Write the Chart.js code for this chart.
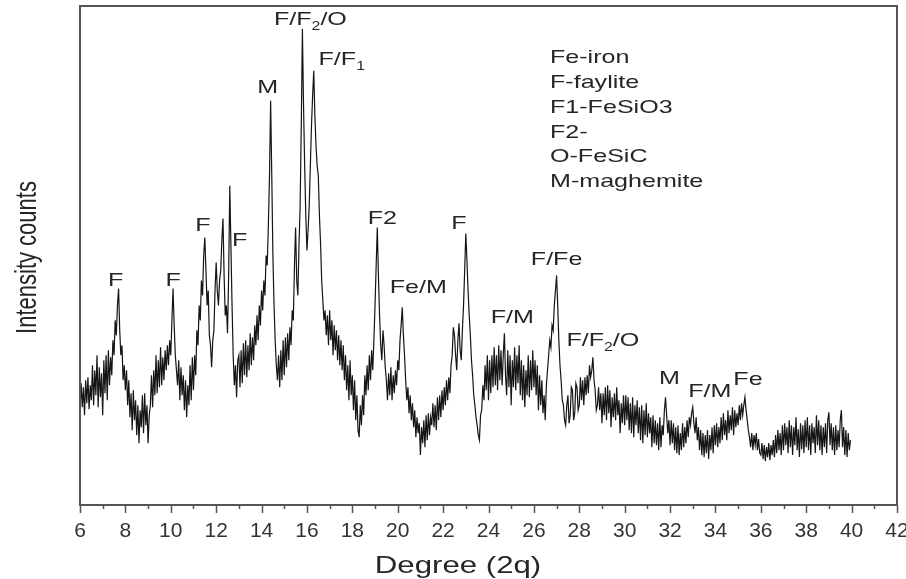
<!DOCTYPE html>
<html>
<head>
<meta charset="utf-8">
<title>XRD pattern</title>
<script src="https://cdn.jsdelivr.net/npm/chart.js@4.4.1/dist/chart.umd.min.js"></script>
<style>
  html, body { margin: 0; padding: 0; background: #fff; }
  canvas { display: block; }
</style>
</head>
<body>
<canvas id="xrd" width="906" height="579"></canvas>
<script>
// 2-theta scan: first angle and step between readings
const scanStart = 6.0;
const scanStep = 0.05;

// intensity (arb. counts), one row per degree, 6.00 .. 39.95
const counts = [
  95, 122, 98, 118, 90, 125, 102, 128, 96, 120, 105, 140, 100, 135, 110, 150, 98, 138, 108, 132,
  90, 145, 112, 150, 105, 155, 120, 148, 130, 165, 150, 185, 170, 200, 217, 175, 150, 160, 125, 140,
  115, 135, 100, 125, 88, 112, 75, 115, 85, 105, 70, 100, 62, 95, 78, 110, 72, 112, 80, 100,
  62, 90, 100, 130, 98, 135, 110, 150, 112, 145, 118, 158, 120, 148, 125, 155, 135, 160, 140, 165,
  150, 185, 217, 180, 150, 135, 120, 145, 105, 138, 110, 130, 95, 125, 88, 120, 100, 140, 105, 148,
  115, 150, 130, 175, 160, 200, 185, 225, 210, 250, 268, 235, 200, 215, 170, 160, 138, 165, 175, 215,
  243, 215, 200, 225, 235, 265, 287, 230, 190, 200, 172, 230, 320, 260, 200, 150, 120, 140, 108, 145,
  150, 118, 155, 122, 162, 130, 165, 128, 160, 135, 172, 140, 168, 145, 180, 160, 190, 165, 200, 180,
  215, 195, 225, 210, 250, 240, 280, 330, 405, 330, 250, 200, 165, 140, 125, 150, 118, 155, 125, 165,
  130, 168, 138, 172, 145, 178, 160, 195, 185, 240, 278, 225, 210, 260, 300, 380, 477, 400, 340, 290,
  255, 275, 300, 340, 380, 410, 435, 390, 360, 340, 330, 290, 262, 225, 205, 185, 195, 170, 190, 160,
  195, 165, 185, 150, 180, 155, 175, 145, 170, 140, 165, 135, 160, 125, 150, 115, 140, 105, 145, 110,
  130, 95, 125, 85, 110, 75, 68, 100, 80, 110, 90, 130, 110, 140, 115, 150, 125, 155, 135, 165,
  200, 240, 278, 230, 190, 160, 145, 175, 160, 138, 125, 105, 132, 110, 138, 105, 130, 112, 135, 120,
  145, 135, 165, 180, 198, 170, 150, 125, 105, 118, 92, 110, 85, 102, 78, 95, 68, 88, 72, 82,
  50, 78, 62, 85, 58, 90, 65, 92, 70, 88, 80, 102, 78, 100, 75, 108, 85, 110, 88, 115,
  95, 118, 100, 125, 105, 128, 112, 140, 150, 178, 170, 150, 135, 165, 182, 155, 145, 175, 200, 235,
  272, 245, 215, 190, 170, 145, 130, 110, 100, 88, 80, 70, 65, 90, 95, 120, 105, 140, 115, 150,
  105, 145, 112, 150, 118, 158, 120, 150, 115, 160, 125, 155, 120, 150, 172, 130, 110, 155, 118, 150,
  100, 145, 118, 158, 115, 150, 122, 160, 110, 145, 105, 140, 98, 135, 110, 150, 108, 145, 115, 155,
  118, 145, 110, 140, 95, 130, 100, 125, 92, 110, 85, 120, 135, 150, 165, 158, 180, 175, 200, 215,
  230, 200, 165, 140, 125, 105, 100, 85, 80, 100, 110, 82, 90, 118, 115, 85, 92, 122, 118, 95,
  100, 128, 105, 125, 100, 128, 110, 130, 112, 140, 128, 135, 148, 125, 115, 95, 100, 118, 95, 112,
  82, 112, 90, 118, 85, 120, 92, 115, 78, 108, 88, 112, 85, 118, 90, 105, 72, 102, 82, 110,
  80, 110, 85, 108, 75, 102, 72, 108, 68, 100, 80, 105, 72, 98, 65, 100, 62, 95, 70, 102,
  68, 92, 72, 88, 58, 90, 62, 85, 60, 82, 55, 88, 58, 80, 70, 95, 108, 90, 72, 85,
  60, 85, 62, 82, 55, 78, 52, 80, 50, 72, 55, 82, 58, 78, 62, 85, 68, 88, 80, 92,
  98, 82, 72, 88, 65, 78, 55, 75, 50, 72, 48, 70, 52, 75, 46, 70, 55, 78, 52, 80,
  60, 82, 58, 78, 62, 88, 65, 92, 70, 85, 65, 95, 72, 90, 75, 98, 70, 95, 78, 92,
  80, 100, 85, 102, 90, 100, 108, 95, 85, 75, 68, 58, 72, 55, 70, 60, 72, 55, 66, 52,
  50, 62, 46, 60, 44, 58, 48, 62, 45, 60, 50, 65, 48, 70, 52, 75, 55, 72, 50, 80,
  55, 82, 60, 78, 52, 85, 58, 80, 50, 78, 60, 88, 55, 76, 48, 82, 56, 80, 52, 85,
  58, 88, 55, 80, 50, 82, 62, 78, 52, 90, 60, 85, 55, 80, 50, 78, 58, 82, 52, 85,
  93, 60, 82, 55, 78, 50, 80, 55, 75, 58, 85, 95, 58, 78, 50, 75, 48, 72, 55, 65
];

// axis range and labelled ticks
const xMin = 6;
const xMax = 42;
const xTickLabels = [6, 8, 10, 12, 14, 16, 18, 20, 22, 24, 26, 28, 30, 32, 34, 36, 38, 40, 42];

// phase assignments ("_n" = subscript n), placed on the peak at that angle
const peakLabels = [
  { text: 'F', at: 7.7 },
  { text: 'F', at: 10.1 },
  { text: 'F', at: 11.5 },
  { text: 'F', at: 12.6 },
  { text: 'M', at: 14.4 },
  { text: 'F/F_2/O', at: 15.8 },
  { text: 'F/F_1', at: 16.3 },
  { text: 'F2', at: 19.1 },
  { text: 'Fe/M', at: 20.2 },
  { text: 'F', at: 23.0 },
  { text: 'F/M', at: 24.7 },
  { text: 'F/Fe', at: 27.0 },
  { text: 'F/F_2/O', at: 28.6 },
  { text: 'M', at: 31.8 },
  { text: 'F/M', at: 33.0 },
  { text: 'Fe', at: 35.3 }
];

const phaseKey = ['Fe-iron', 'F-faylite', 'F1-FeSiO3', 'F2-', 'O-FeSiC', 'M-maghemite'];

const points = counts.map((c, i) => ({ x: +(scanStart + i * scanStep).toFixed(2), y: c }));

const TEXT = '#262626';
const AXIS = '#555';
const FONT = '"Liberation Sans", Arial, sans-serif';
const WIDE = 1.32;   // lettering in this figure is drawn wide

// text drawn horizontally stretched, centred or left aligned at x
function wideText(ctx, str, x, y, stretch) {
  ctx.save();
  ctx.translate(x, y);
  ctx.scale(stretch, 1);
  ctx.fillText(str, 0, 0);
  ctx.restore();
}

// label with optional one-character subscripts, centred on cx
function drawPeakLabel(ctx, text, cx, cy) {
  const parts = text.split(/_(\d)/);
  const main = '19px ' + FONT;
  const sub = '12px ' + FONT;
  let total = 0;
  parts.forEach((p, i) => {
    ctx.font = i % 2 ? sub : main;
    total += ctx.measureText(p).width * WIDE;
  });
  let x = cx - total / 2;
  ctx.textAlign = 'left';
  parts.forEach((p, i) => {
    ctx.font = i % 2 ? sub : main;
    wideText(ctx, p, x, i % 2 ? cy + 7 : cy, WIDE);
    x += ctx.measureText(p).width * WIDE;
  });
}

const framePlugin = {
  id: 'frame',
  afterDatasetsDraw(chart) {
    const { ctx, chartArea: a, scales: { x } } = chart;
    ctx.save();
    ctx.strokeStyle = AXIS;
    ctx.lineWidth = 2;
    ctx.strokeRect(a.left, a.top, a.right - a.left, a.bottom - a.top);
    ctx.lineWidth = 1.5;
    for (let v = xMin; v <= xMax; v++) {
      const px = Math.round(x.getPixelForValue(v)) + 0.5;
      const len = v % 2 === 0 ? 8 : 4;
      ctx.beginPath();
      ctx.moveTo(px, a.bottom);
      ctx.lineTo(px, a.bottom + len);
      ctx.stroke();
    }
    ctx.restore();
  }
};

const labelPlugin = {
  id: 'peakText',
  afterDraw(chart, args, opts) {
    const { ctx, chartArea: a, scales: { x, y } } = chart;
    ctx.save();
    ctx.fillStyle = TEXT;
    ctx.textBaseline = 'middle';

    peakLabels.forEach((l, i) => {
      const c = counts[Math.round((l.at - scanStart) / scanStep)];
      const [dx, dy] = opts.offsets[i];
      drawPeakLabel(ctx, l.text, x.getPixelForValue(l.at) + dx, y.getPixelForValue(c) + dy);
    });

    // phase key, top right of the plot
    ctx.font = '19px ' + FONT;
    ctx.textAlign = 'left';
    phaseKey.forEach((s, i) => {
      wideText(ctx, s, a.left + opts.keyLeft, a.top + opts.keyTop + i * opts.keyStep, WIDE);
    });

    // axis titles
    ctx.textAlign = 'center';
    ctx.font = '24px ' + FONT;
    wideText(ctx, 'Degree (2q)', a.left + opts.xTitle[0], a.bottom + opts.xTitle[1], 1.3);

    ctx.font = '22px ' + FONT;
    ctx.save();
    ctx.translate(opts.yTitle[0], (a.top + a.bottom) / 2 + opts.yTitle[1]);
    ctx.rotate(-Math.PI / 2);
    ctx.scale(1, 1.3);
    ctx.fillText('Intensity counts', 0, 0);
    ctx.restore();

    ctx.restore();
  }
};

new Chart(document.getElementById('xrd'), {
  type: 'line',
  data: {
    datasets: [{
      data: points,
      borderColor: '#151515',
      borderWidth: 1.2,
      pointRadius: 0,
      tension: 0
    }]
  },
  options: {
    responsive: false,
    animation: false,
    layout: { padding: { top: 6, right: 9, left: 0, bottom: 0 } },
    plugins: {
      legend: { display: false },
      tooltip: { enabled: false },
      peakText: {
        offsets: [
          [-3, -8], [0, -8], [-2, -12], [10, 55], [-3, -13], [8, -9], [28, -11], [5, -9],
          [16, -20], [-7, -10], [8, -16], [0, -16], [10, -17], [4, -18], [17, -15], [3, -17]
        ],
        keyLeft: 470,
        keyTop: 52,
        keyStep: 24.8,
        xTitle: [378, 61],
        yTitle: [28, 2]
      }
    },
    scales: {
      x: {
        type: 'linear',
        min: xMin,
        max: xMax,
        afterFit: (s) => {
          s.height = 74;
          s.paddingLeft = 0;
          s.paddingRight = 0;
        },
        grid: { display: false, drawTicks: false },
        border: { display: false },
        ticks: {
          stepSize: 1,
          autoSkip: false,
          maxRotation: 0,
          padding: 14,
          color: '#333',
          font: { family: '"Liberation Sans Narrow", "Arial Narrow", "Liberation Sans", sans-serif', size: 21 },
          callback: (v) => (xTickLabels.includes(v) ? String(v) : '')
        }
      },
      y: {
        min: 0,
        max: 500,
        afterFit: (s) => { s.width = 80; },
        ticks: { display: false },
        grid: { display: false },
        border: { display: false }
      }
    }
  },
  plugins: [framePlugin, labelPlugin]
});
</script>
</body>
</html>
